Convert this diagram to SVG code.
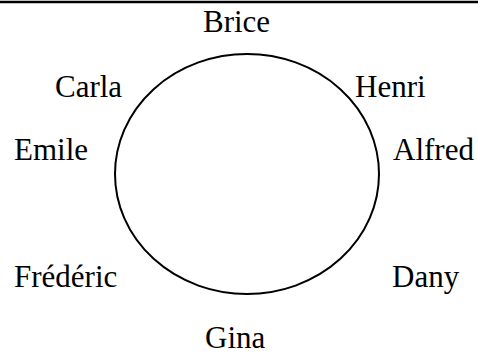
<svg xmlns="http://www.w3.org/2000/svg" width="478" height="354" viewBox="0 0 478 354">
<style>
text { font-family: "Liberation Serif", "Times New Roman", serif; font-size: 31px; fill: #000; }
.shape { fill: none; stroke: #000; stroke-width: 2; }
</style>
<rect width="478" height="354" fill="#fff"/>
<line x1="0" y1="2" x2="478" y2="2" stroke="#000" stroke-width="2.5"/>
<g id="circle"><ellipse class="shape" cx="247" cy="174" rx="132" ry="120"/></g>
<g id="connectors"></g>
<g id="brice"><text x="203" y="32">Brice</text></g>
<g id="carla"><text x="55" y="97">Carla</text></g>
<g id="henri"><text x="355" y="97">Henri</text></g>
<g id="emile"><text x="14" y="160">Emile</text></g>
<g id="alfred"><text x="393" y="160">Alfred</text></g>
<g id="frederic"><text x="14" y="287">Frédéric</text></g>
<g id="dany"><text x="392" y="287">Dany</text></g>
<g id="gina"><text x="205" y="348">Gina</text></g>
</svg>
